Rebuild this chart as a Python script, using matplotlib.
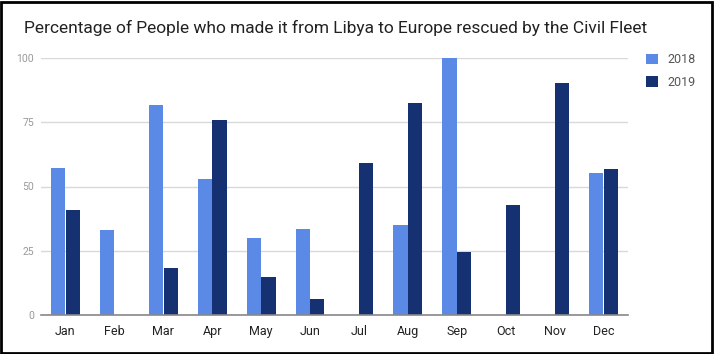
import numpy as np
import matplotlib
matplotlib.use("Agg")
import matplotlib.pyplot as plt
from matplotlib.patches import Rectangle

plt.rcParams['font.family'] = ['Roboto', 'DejaVu Sans']

months = ['Jan', 'Feb', 'Mar', 'Apr', 'May', 'Jun', 'Jul', 'Aug', 'Sep', 'Oct', 'Nov', 'Dec']
y2018 = [57.1, 33.1, 81.8, 52.8, 30.1, 33.5, 0, 34.9, 100, 0, 0, 55.3]
y2019 = [40.7, 0, 18.3, 76.0, 14.7, 6.3, 59.3, 82.4, 24.4, 42.9, 90.3, 56.8]
yticks = [0, 25, 50, 75, 100]

c18 = '#5b8ae6'
c19 = '#163172'

fig = plt.figure(figsize=(7.16, 3.54), dpi=100)
ax = fig.add_axes([41 / 716, 1 - 315 / 354, (628 - 41) / 716, (315 - 58) / 354])

x = np.arange(len(months))
w = 0.29
ax.bar(x - w / 2 - 0.005, y2018, w, color=c18, label='2018', zorder=3)
ax.bar(x + w / 2 + 0.005, y2019, w, color=c19, label='2019', zorder=3)

ax.set_xlim(-0.5, len(months) - 0.5)
ax.set_ylim(0, 100)
ax.set_yticks(yticks)
ax.set_yticklabels([str(t) for t in yticks], color='#999999', fontsize=7.5)
ax.set_xticks(x)
ax.set_xticklabels(months, color='#222222', fontsize=9)
ax.tick_params(axis='both', length=0)
ax.tick_params(axis='y', pad=5)
ax.tick_params(axis='x', pad=7)
ax.grid(axis='y', color='#d9d9d9', linewidth=1, zorder=0)
for s in ['top', 'right', 'left']:
    ax.spines[s].set_visible(False)
ax.spines['bottom'].set_color('#888888')
ax.spines['bottom'].set_linewidth(1.2)
ax.spines['bottom'].set_zorder(4)

fig.text(24 / 716, 1 - 28 / 354, 'Percentage of People who made it from Libya to Europe rescued by the Civil Fleet',
         fontsize=12.5, color='#222222', va='center', ha='left')

leg = fig.legend(loc='upper left', bbox_to_anchor=(635 / 716, 1 - 42 / 354), frameon=False,
                 fontsize=9, handlelength=0.9, handleheight=0.9, handletextpad=0.8, labelspacing=0.75)
for t in leg.get_texts():
    t.set_color('#555555')

fig.patches.append(Rectangle((0.002, 0.004), 0.993, 0.99, transform=fig.transFigure,
                             fill=False, edgecolor='black', linewidth=2))

fig.savefig('out.png', dpi=100)
